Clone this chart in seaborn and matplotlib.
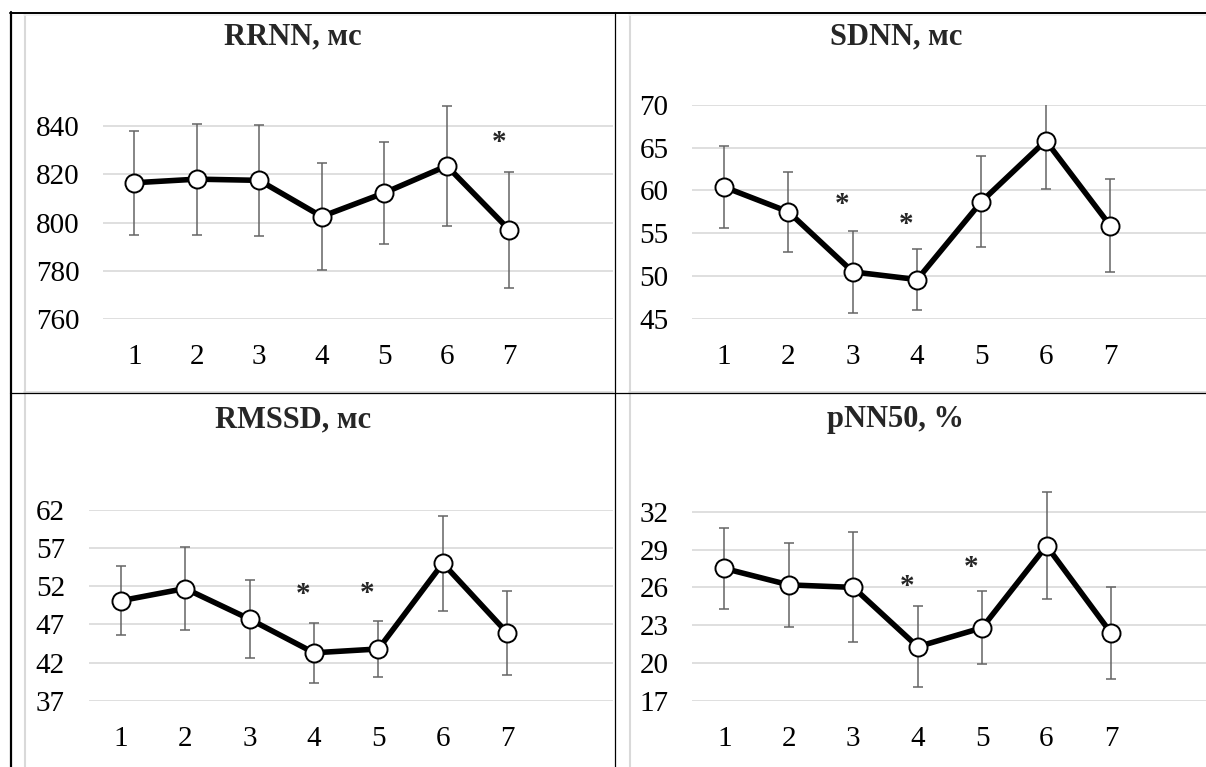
import matplotlib
matplotlib.use("Agg")
import matplotlib.pyplot as plt
from matplotlib.lines import Line2D
import pandas as pd
import seaborn as sns

# Data (mean and error per stage)
stages = [1, 2, 3, 4, 5, 6, 7]

rrnn_mean = [816.5, 818.0, 817.5, 802.5, 812.3, 823.5, 797.0]
rrnn_err = [21.5, 23.0, 23.0, 22.0, 21.0, 25.0, 24.0]
rrnn_star_x = [7]
rrnn_star_y = [833.0]
rrnn_ticks = [760, 780, 800, 820, 840]

sdnn_mean = [60.4, 57.5, 50.5, 49.6, 58.7, 65.8, 55.9]
sdnn_err = [4.75, 4.7, 4.8, 3.6, 5.3, 5.6, 5.45]
sdnn_star_x = [3, 4]
sdnn_star_y = [58.3, 56.0]
sdnn_ticks = [45, 50, 55, 60, 65, 70]

rmssd_mean = [50.1, 51.7, 47.7, 43.3, 43.8, 55.0, 45.9]
rmssd_err = [4.5, 5.4, 5.1, 3.95, 3.6, 6.2, 5.5]
rmssd_star_x = [4, 5]
rmssd_star_y = [50.9, 51.1]
rmssd_ticks = [37, 42, 47, 52, 57, 62]

pnn50_mean = [27.5, 26.2, 26.0, 21.3, 22.8, 29.3, 22.4]
pnn50_err = [3.2, 3.35, 4.35, 3.2, 2.9, 4.25, 3.65]
pnn50_star_x = [4, 5]
pnn50_star_y = [26.1, 27.6]
pnn50_ticks = [17, 20, 23, 26, 29, 32]

W, H = 1206, 767

sns.set_theme(style="white")
plt.rcParams["font.family"] = ["Liberation Serif", "DejaVu Serif"]

fig = plt.figure(figsize=(W / 100, H / 100), dpi=100)


def px_axes(left, top, right, bottom):
    return fig.add_axes([left / W, 1 - bottom / H, (right - left) / W, (bottom - top) / H])


def draw_panel(box, step, ylim, ticks, mean, err, star_x, star_y, title, title_xy):
    left, top, right, bottom = box
    ax = px_axes(left, top, right, bottom)
    df = pd.DataFrame({"stage": stages, "value": mean, "err": err})
    ax.errorbar(df["stage"], df["value"], yerr=df["err"], fmt="none",
                ecolor="#646464", elinewidth=1.1, capsize=3.5, capthick=1.1, zorder=2)
    sns.lineplot(data=df, x="stage", y="value", ax=ax, color="black",
                 linewidth=4, marker="o", markersize=13, markerfacecolor="white",
                 markeredgecolor="black", markeredgewidth=1.4, zorder=3)
    for sx, sy in zip(star_x, star_y):
        ax.text(sx - 0.17, sy, "*", ha="center", va="center", fontsize=21,
                fontweight="bold", zorder=4)
    ax.set_xlim(0.5, 0.5 + (right - left) / step)
    ax.set_ylim(*ylim)
    ax.set_xticks(stages)
    ax.set_yticks(ticks)
    ax.set_xlabel("")
    ax.set_ylabel("")
    ax.grid(axis="y", color="#d9d9d9", linewidth=1.2, zorder=0)
    ax.grid(axis="x", visible=False)
    ax.set_axisbelow(True)
    for s in ax.spines.values():
        s.set_visible(False)
    ax.tick_params(axis="both", length=0, labelsize=21, colors="black")
    ax.tick_params(axis="y", pad=17)
    ax.tick_params(axis="x", pad=18)
    ax.patch.set_alpha(0)
    fig.text(title_xy[0] / W, 1 - title_xy[1] / H, title, ha="center", va="center",
             fontsize=22, fontweight="bold")
    return ax


draw_panel((103, 102, 613, 319), 62.5, (760, 850), rrnn_ticks, rrnn_mean, rrnn_err,
           rrnn_star_x, rrnn_star_y, "RRNN, мс", (293, 37))
draw_panel((692, 104.7, 1206, 319), 64.33, (45, 70), sdnn_ticks, sdnn_mean, sdnn_err,
           sdnn_star_x, sdnn_star_y, "SDNN, мс", (896, 37))
draw_panel((88.5, 509.7, 613, 701), 64.43, (37, 62), rmssd_ticks, rmssd_mean, rmssd_err,
           rmssd_star_x, rmssd_star_y, "RMSSD, мс", (293, 420))
draw_panel((692.3, 473.8, 1206, 701), 64.4, (17, 35), pnn50_ticks, pnn50_mean, pnn50_err,
           pnn50_star_x, pnn50_star_y, "pNN50, %", (896, 420))


def px_line(x0, y0, x1, y1, color, lw):
    fig.add_artist(Line2D([x0 / W, x1 / W], [1 - y0 / H, 1 - y1 / H],
                          color=color, linewidth=lw, transform=fig.transFigure))


# chart area borders (light grey)
grey = "#d9d9d9"
for x in (24.5, 629.5):
    px_line(x, 13, x, 392, grey, 1.5)
    px_line(x, 394, x, 767, grey, 1.5)
px_line(24, 391.5, 613, 391.5, grey, 1.2)
px_line(629, 391.5, 1206, 391.5, grey, 1.2)
px_line(24, 14.5, 613, 14.5, "#efefef", 1.2)
px_line(629, 14.5, 1206, 14.5, "#efefef", 1.2)

# table borders
px_line(10, 12.5, 1206, 12.5, "black", 1.4)
px_line(11, 12, 11, 767, "black", 1.6)
px_line(615, 12, 615, 767, "black", 0.9)
px_line(10, 393, 1206, 393, "black", 0.9)

fig.savefig("out.png", dpi=100)
